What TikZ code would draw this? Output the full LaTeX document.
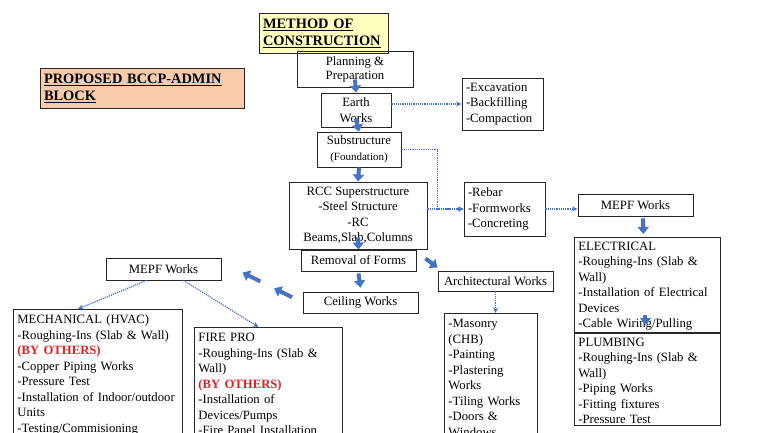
\documentclass[tikz,border=0pt]{standalone}
\usepackage{fontspec}
\setmainfont{Liberation Serif}
\usepackage{tikz}
\usetikzlibrary{shapes, arrows, arrows.meta, calc}

\definecolor{flowblue}{RGB}{68,114,196}
\definecolor{notered}{RGB}{230,30,35}
\definecolor{titleyellow}{RGB}{255,255,192}
\definecolor{titlepeach}{RGB}{248,203,173}

\newcommand{\byothers}{{\bfseries\color{notered}(BY OTHERS)}}

\begin{document}
\begin{tikzpicture}[x=1pt, y=-1pt]
      \tikzstyle{titlebox} = [
        rectangle,
        draw=black!85,
        line width=0.9pt,
        align=left,
        inner xsep=4pt,
        minimum height=40pt,
        font=\fontsize{14.4}{17}\selectfont\bfseries
      ]

      \tikzstyle{stage} = [
        rectangle,
        draw=black!85,
        line width=0.9pt,
        align=center,
        inner sep=2pt,
        minimum width=115pt,
        minimum height=21pt,
        font=\fontsize{12.7}{15.5}\selectfont
      ]

      \tikzstyle{notebox} = [
        rectangle,
        draw=black!85,
        line width=0.9pt,
        align=left,
        text width=73pt,
        inner xsep=4pt,
        font=\fontsize{12.7}{15.5}\selectfont
      ]

      \tikzstyle{listbox} = [
        rectangle,
        draw=black!85,
        line width=0.9pt,
        anchor=north west,
        align=left,
        inner xsep=4pt,
        inner ysep=3.5pt,
        execute at begin node=\strut,
        font=\fontsize{12.7}{15.5}\selectfont
      ]

      \tikzstyle{bigarrow} = [
        draw=flowblue,
        line width=4pt,
        -{Triangle[length=7pt, width=11pt]}
      ]

      \tikzstyle{dotlink} = [
        draw=flowblue,
        line width=1.2pt,
        densely dotted,
        -{Stealth[length=5.5pt, width=5pt]}
      ]

      \fill[white] (0,0) rectangle (768,433);
      \useasboundingbox (0,0) rectangle (768,433);
      \clip (0,0) rectangle (768,433);

      \node[titlebox, fill=titleyellow, text width=121pt] (method) at (323.5,33)
      {\underline{METHOD OF}\\\underline{CONSTRUCTION}};
      \node[titlebox, fill=titlepeach, text width=196pt] (block) at (142,88)
      {\underline{PROPOSED BCCP-ADMIN}\\\underline{BLOCK}};

      \node[stage, minimum width=116pt, minimum height=36pt, font=\fontsize{12.7}{14}\selectfont] (plan) at (355,69)
      {Planning \&\\Preparation};
      \node[stage, minimum width=70pt, minimum height=34pt] (earth) at (356,110) {Earth\\Works};
      \node[stage, minimum width=84pt, minimum height=35pt] (sub) at (359,149.5)
      {Substructure\\{\fontsize{11}{13}\selectfont (Foundation)}};
      \node[stage, minimum width=138pt, minimum height=67pt] (rcc) at (358,215.5)
      {RCC Superstructure\\-Steel Structure\\-RC\\Beams,Slab,Columns};
      \node[stage] (removal) at (358.5,260.5) {Removal of Forms};
      \node[stage] (ceiling) at (360.5,302.5) {Ceiling Works};
      \node[stage, minimum height=20pt] (arch) at (495.5,281) {Architectural Works};
      \node[stage, minimum height=22pt] (mepfR) at (635.5,205) {MEPF Works};
      \node[stage, minimum height=22pt] (mepfL) at (163.5,269) {MEPF Works};

      \node[notebox, minimum height=52pt] (excav) at (502.5,104) {-Excavation\\-Backfilling\\-Compaction};
      \node[notebox, minimum height=54pt] (rebar) at (504.5,209) {-Rebar\\-Formworks\\-Concreting};

      \node[listbox, text width=85pt] (masonry) at (444,313)
      {-Masonry\\(CHB)\\-Painting\\-Plastering\\Works\\-Tiling Works\\-Doors \&\\Windows};
      \node[listbox, text width=138pt, inner ysep=2pt] (elec) at (574,237)
      {ELECTRICAL\\-Roughing-Ins (Slab \&\\Wall)\\-Installation of Electrical\\Devices\\-Cable Wiring/Pulling};
      \node[listbox, text width=138pt, inner ysep=2pt] (plumb) at (574,333)
      {PLUMBING\\-Roughing-Ins (Slab \&\\Wall)\\-Piping Works\\-Fitting fixtures\\-Pressure Test};
      \node[listbox, text width=161pt] (mech) at (13,309)
      {MECHANICAL (HVAC)\\-Roughing-Ins (Slab \& Wall)\\\byothers\\-Copper Piping Works\\-Pressure Test\\-Installation of Indoor/outdoor\\Units\\-Testing/Commisioning};
      \node[listbox, text width=140pt] (fire) at (194,327)
      {FIRE PRO\\-Roughing-Ins (Slab \&\\Wall)\\\byothers\\-Installation of\\Devices/Pumps\\-Fire Panel Installation};

      \coordinate (mepfLin) at ([yshift=7pt]mepfL.east);

      \draw[bigarrow] ([yshift=8pt]plan.south) -- (earth.north);
      \draw[bigarrow] ([yshift=9pt]earth.south) -- (sub.north);
      \draw[bigarrow] (sub.south) -- (rcc.north);
      \draw[bigarrow] ([yshift=12pt]rcc.south) -- (removal.north);
      \draw[bigarrow] ([yshift=-2pt]removal.south) -- ([yshift=4pt]ceiling.north);
      \draw[bigarrow] ([xshift=9pt,yshift=2pt]removal.east) -- ([yshift=3pt]arch.north west);
      \draw[bigarrow] ($(ceiling.west)!0.52!(mepfLin)$) -- ($(ceiling.west)!0.74!(mepfLin)$);
      \draw[bigarrow] ($(ceiling.west)!0.13!(mepfLin)$) -- ($(ceiling.west)!0.35!(mepfLin)$);
      \draw[bigarrow] ([xshift=7.5pt,yshift=-2pt]mepfR.south) -- ([xshift=-4pt,yshift=3pt]elec.north);
      \draw[bigarrow] ([xshift=-2pt,yshift=18pt]elec.south) -- ([xshift=-2pt,yshift=8pt]plumb.north);

      \draw[dotlink] (earth.east |- excav.west) -- (excav.west);
      \draw[dotlink] (sub.east) -| ([xshift=-26pt]rebar.west) -- (rebar.west);
      \draw[dotlink] (rcc.east |- rebar.west) -- (rebar.west);
      \draw[dotlink] (rebar.east) -- (rebar.east -| mepfR.west);
      \draw[dotlink] (arch.south) -- (arch.south |- masonry.north);
      \draw[dotlink] ([xshift=-17pt]mepfL.south) -- ([xshift=-20pt]mech.north);
      \draw[dotlink] ([xshift=20pt]mepfL.south) -- ([xshift=-10pt]fire.north);
    \end{tikzpicture}
\end{document}
